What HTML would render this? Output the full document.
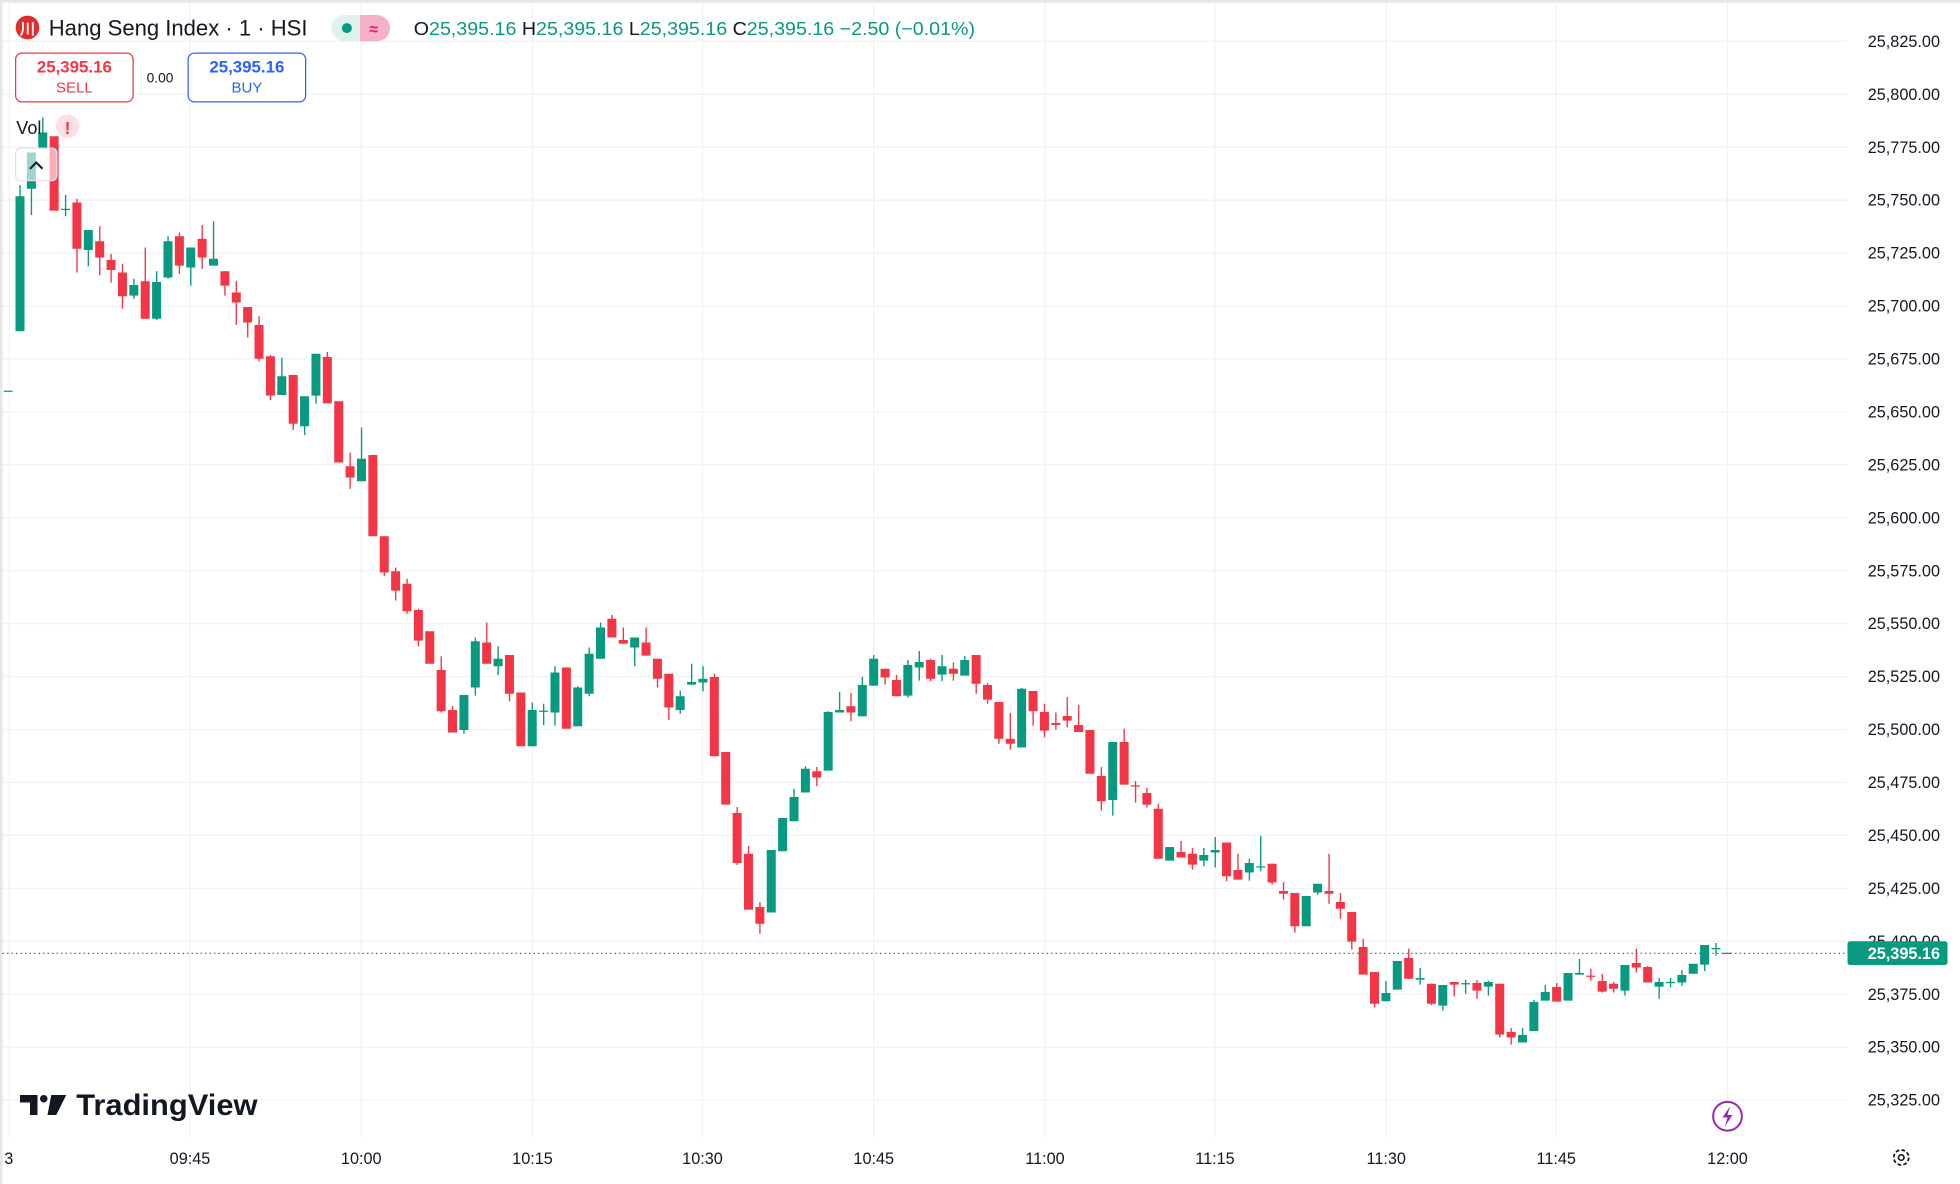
<!DOCTYPE html>
<html><head><meta charset="utf-8"><style>
html,body{margin:0;padding:0;background:#fff;}
svg{display:block;}
text{font-family:"Liberation Sans",sans-serif;}
</style></head><body>
<svg id="s" width="1960" height="1184" viewBox="0 0 1568 947.2" xmlns="http://www.w3.org/2000/svg">
<rect x="0" y="0" width="1568" height="947.2" fill="#fff"/>
<rect x="0" y="0" width="1568" height="2" fill="#e6e6e6"/>
<rect x="0" y="0" width="2" height="947.2" fill="#e6e6e6"/>
<g id="grid" stroke="#f0f1f3" stroke-width="1"></g>
<g id="candles"></g>
<line x1="2" y1="762.7" x2="1478" y2="762.7" stroke="#089981" stroke-width="1" stroke-dasharray="1.2,2.4"/>
<g id="yaxis" font-size="13" fill="#131722" text-anchor="end"></g>
<rect x="1478" y="753" width="80" height="19" rx="2" fill="#089981"/>
<text x="1552" y="767" font-size="13" fill="#fff" text-anchor="end" font-weight="bold">25,395.16</text>
<g font-size="13" fill="#131722" text-anchor="middle">
<text x="7" y="931">3</text><text x="152" y="931">09:45</text><text x="289" y="931">10:00</text>
<text x="426" y="931">10:15</text><text x="562" y="931">10:30</text><text x="699" y="931">10:45</text>
<text x="836" y="931">11:00</text><text x="972" y="931">11:15</text><text x="1109" y="931">11:30</text>
<text x="1245" y="931">11:45</text><text x="1382" y="931">12:00</text>
</g>
<circle cx="1521" cy="926" r="6" fill="none" stroke="#131722" stroke-width="1.4" stroke-dasharray="3,1.7"/>
<circle cx="1521" cy="926" r="2.2" fill="none" stroke="#131722" stroke-width="1.3"/>
<circle cx="1382" cy="893" r="11.5" fill="#fff" stroke="#9c27b0" stroke-width="1.6"/>
<path d="M1384 885 L1378 894 L1382 894 L1380 901 L1386 892 L1382 892 Z" fill="#9c27b0"/>
<path d="M16 876 h14 v16 h-6 v-10 h-8 z" fill="#131722"/>
<circle cx="35" cy="879" r="3" fill="#131722"/>
<path d="M41 876 h12 l-8 16 h-7 z" fill="#131722"/>
<text x="61" y="892" font-size="24" font-weight="bold" fill="#131722" textLength="145" lengthAdjust="spacingAndGlyphs">TradingView</text>
<circle cx="22" cy="22" r="9.5" fill="#e12d2d"/>
<text x="22" y="27" font-size="12" fill="#fff" text-anchor="middle" font-weight="bold">川</text>
<text x="39" y="28.5" font-size="17.5" fill="#131722" textLength="207" lengthAdjust="spacingAndGlyphs">Hang Seng Index · 1 · HSI</text>
<rect x="265" y="12" width="47" height="21" rx="10.5" fill="#dff2ee"/>
<path d="M288 12 h13.5 a10.5 10.5 0 0 1 0 21 h-13.5 z" fill="#f3b1c8"/>
<circle cx="277.5" cy="22.5" r="4" fill="#089981"/>
<text x="299" y="27.5" font-size="13" fill="#e91e63" text-anchor="middle" font-weight="bold">≈</text>
<text x="331" y="28" font-size="15" fill="#089981" textLength="449" lengthAdjust="spacingAndGlyphs"><tspan fill="#131722">O</tspan>25,395.16 <tspan fill="#131722">H</tspan>25,395.16 <tspan fill="#131722">L</tspan>25,395.16 <tspan fill="#131722">C</tspan>25,395.16 −2.50 (−0.01%)</text>
<rect x="12.5" y="42.5" width="94" height="39" rx="5" fill="#fff" stroke="#f23645"/>
<text x="59.5" y="58" font-size="13.5" fill="#f23645" text-anchor="middle" font-weight="bold">25,395.16</text>
<text x="59.5" y="74" font-size="12" fill="#f23645" text-anchor="middle">SELL</text>
<text x="128" y="66" font-size="11" fill="#131722" text-anchor="middle">0.00</text>
<rect x="150.5" y="42.5" width="94" height="39" rx="5" fill="#fff" stroke="#2962ff"/>
<text x="197.5" y="58" font-size="13.5" fill="#2962ff" text-anchor="middle" font-weight="bold">25,395.16</text>
<text x="197.5" y="74" font-size="12" fill="#2962ff" text-anchor="middle">BUY</text>
<text x="13" y="107" font-size="14.5" fill="#131722">Vol</text>
<circle cx="54" cy="101" r="9.5" fill="#fde0e4"/>
<text x="54" y="107" font-size="14" fill="#f23645" text-anchor="middle" font-weight="bold">!</text>
<rect x="12.5" y="118.5" width="33" height="26" rx="4" fill="rgba(255,255,255,0.6)" stroke="#e0e3eb"/>
<path d="M24 135 L29 130 L34 135" fill="none" stroke="#131722" stroke-width="1.6"/>
</svg>
<script>
var NS="http://www.w3.org/2000/svg";
function el(p,t,a){var e=document.createElementNS(NS,t);for(var k in a)e.setAttribute(k,a[k]);p.appendChild(e);return e;}
var g=document.getElementById('grid');
for(var i=0;i<21;i++){var y=33+i*42.35;el(g,'line',{x1:2,y1:y,x2:1478,y2:y});}
[7.5,152,289,426,562,699,836,972,1109,1245,1382].forEach(function(x){el(g,'line',{x1:x,y1:2,x2:x,y2:910});});
var ya=document.getElementById('yaxis');
for(var i=0;i<21;i++){var v=25825-25*i;var y=33+i*42.35;if(Math.abs(y-762.7)<8)y=752;
var t=el(ya,'text',{x:1552,y:y+4.5});
t.textContent=(Math.floor(v/1000))+','+String(v%1000).padStart(3,'0')+'.00';}
var D=[
"g 157 265 148 265","g 122 151 122 172","g 106 119 94 119","r 109 168.5","g 167 168 156 173","r 162 199 159 218","g 184 200 184 213","r 193 206 181 220","r 208 216 203 226","r 218 237 211 247",
"g 228 236.5 223 239","r 225 255 198 255","g 225.6 255 217 256","g 193 222 189 223","r 189 212.5 186 219","g 198 214 198 228.5","r 191 206 180 215","g 207 212.5 177 212.5","r 217 228.5 217 236.5","r 234 242 225 260",
"r 245.6 258 245.6 270","r 260 287 253 289","r 285 316.5 284 320","g 301 316 286 316","r 300 339 300 344","g 317 341 317 348","g 283 316.5 283 323","r 285.6 322.7 281.6 322.7","r 321 370","r 373 382 362 391",
"g 367 385 342 385","r 364 429","r 429 458 429 461","r 457 472.5 454 480.5","r 467 489 463 491","r 488 512.5 487 517","r 505 531","r 536 569 525 570","r 568 586 565 586","g 556 584 556 587",
"g 513 550 510 556.5","r 514 531 498 531","g 527 533 517 540","r 524 555 524 561","r 554 597","g 568 597 562 597","g 568.5 569.5 563 580","g 538 570 533 580.5","r 534 583","g 550 581 549 581",
"g 523 555 518 557","g 502 527 498 527","r 495 510 492 510","r 512 515 502 515","g 510 518 510 533","r 514 524.5 502 524.5","r 527 543 527 550","r 539 566 539 576","g 557 568 552.5 571","g 545.6 547.7 531 548",
"g 543 546 533 553","r 541.6 605 539 605","r 601.6 643.7","r 650.4 690.4 645.6 692","r 683 727.7 676.8 727.7","r 725.6 739 721.6 747","g 680 730","g 654.4 681","g 637.6 657 631 657","g 615 634 613 634",
"r 617 622 613.6 629","g 569.6 616.5 569 616.5","g 568 570 553.6 570","r 565 570 554.4 577","g 548 573 541.6 573","g 527 548.5 524 548.5","r 535 542 535 547.7","r 544 557 540 557","g 532 556.5 528 558","g 529.6 534 520.8 544.5",
"r 528 543 527 545","g 533 539.7 524 545","r 535 539 530 544.5","g 528 540.5 524.8 540.5","r 524 547 524 555","r 548 559.7 546.4 563","r 561.6 591 561.6 595","r 591 595 570.4 599.7","g 551 598 550.4 598","r 552.8 569 552.8 580.5",
"r 569.6 584.5 563 590","r 578.4 580 570 583.7","r 572.8 576.5 557.6 582","r 580 585.6 564 585.6","r 584 619","r 620.8 641 613.6 648.5","g 593.6 640 593.6 652.5","r 593.6 627.7 583 627.7","r 628.3 629.3 624.8 642","r 634.4 643.7 630.4 646",
"r 647 687 643 687","g 677.6 688.5","r 681.6 686 672.8 686","r 683 691.7 678.4 695.7","g 684 688.5 678.4 693","g 680 682 669.6 694","r 674 701 674 705","r 696 703.7 683 703.7","g 690.4 698 687 704.5","g 693 694 668.8 697",
"r 691 706 691 707.7","r 712.8 715 705.6 719.7","r 714.4 741 714.4 746","g 716.8 741","g 707 714 707 715.7","r 712.8 715 683 723","r 721.6 727 714.4 735","r 729.6 753.3 729.6 759.7","r 757.6 779.7 751 779.7","r 777.6 803 777.6 806",
"g 794.4 801 784.8 801","g 768.8 791.7 768.8 792","r 766.4 783 759 783","g 782.4 783.7 774.4 787.7","r 787 803 787 804","g 788 804.5 788 808.5","r 785.6 787.7 785.6 797","g 786.5 787.5 784 795","r 786.4 792.5 784 799","g 785.6 789.3 784.5 796.5",
"r 787 827.7 787 830","r 825.6 830 822.4 835.7","g 828 834 822.4 834","g 801.6 824.8 800 824.8","g 793.6 800.5 788 800.5","r 789.6 801.3 786.4 801.3","g 778.4 800.5","g 778.4 779.7 767 779.7","r 780.5 781.5 775 784.5","r 784.8 793.3 779 794",
"r 787 791 785.6 794","g 772 792.5 772 796.5","r 770.4 774 759 778","r 773.6 786 773 786","g 785.6 789.3 782.4 799","g 785.5 786.5 782.4 790","g 780 786 776 788.5","g 771 779","g 756 771.7 756 777","g 758.4 759.2 754.4 764.5",
"g 762.2 763.2"];
var cg=document.getElementById('candles');
el(cg,'rect',{x:3,y:312.5,width:7,height:1,fill:'#089981'});
D.forEach(function(s,i){var p=s.split(' ');var c=p[0]=='g'?'#089981':'#f23645';
var t=+p[1],b=+p[2],h=p.length>3?+p[3]:t,l=p.length>4?+p[4]:b;var x=16+9.106*i;
if(h<t-0.3||l>b+0.3)el(cg,'rect',{x:x-0.5,y:h,width:1.1,height:l-h,fill:c});
el(cg,'rect',{x:x-3.6,y:t,width:7.2,height:Math.max(1,b-t),fill:c});});
</script>
</body></html>
